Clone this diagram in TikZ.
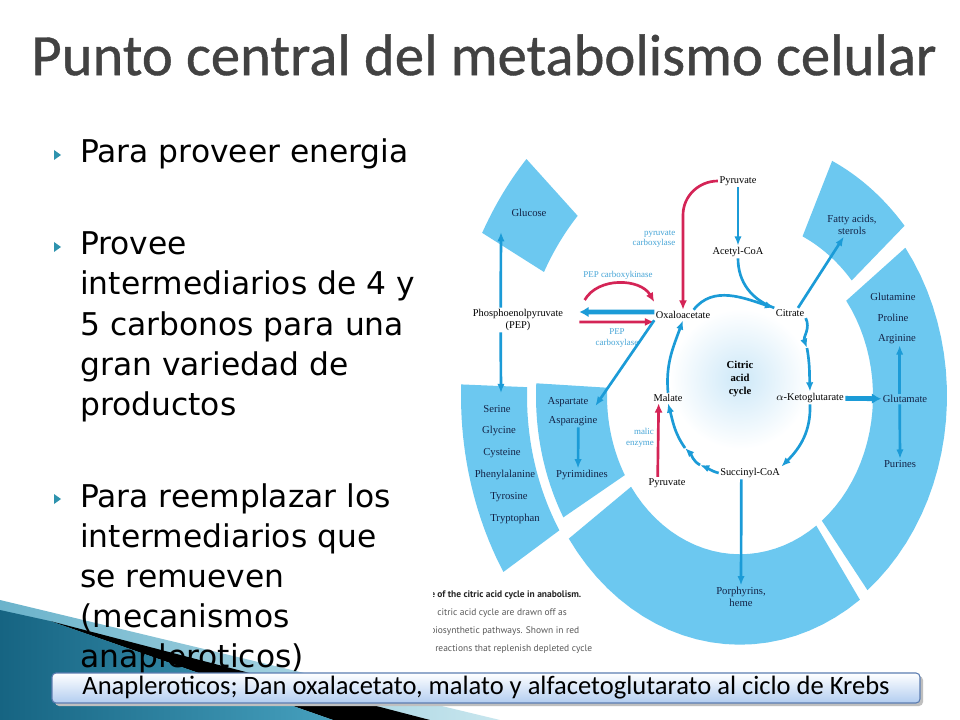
\documentclass[tikz,border=0pt]{standalone}
\usepackage{fontspec}
\newfontfamily\titlefont{Carlito}
\newfontfamily\headfont[FakeBold=0.7]{Carlito}
\newfontfamily\bulletfont{DejaVu Sans}
\newfontfamily\capfont{PT Sans}
\newfontfamily\figfont{Liberation Serif}
\usetikzlibrary{arrows.meta,positioning}
\definecolor{segblue}{RGB}{108,200,240}
\definecolor{arrblue}{RGB}{27,155,215}
\definecolor{arrred}{RGB}{212,36,86}
\definecolor{enzblue}{RGB}{70,165,215}
\definecolor{segtext}{RGB}{20,35,70}
\definecolor{titlegray}{RGB}{66,66,66}
\definecolor{bulletteal}{RGB}{46,147,174}
\definecolor{bannerline}{RGB}{92,125,177}
\definecolor{bannerfill}{RGB}{178,205,240}
\definecolor{tealdark}{RGB}{22,100,130}
\definecolor{tealmid}{RGB}{70,160,190}
\definecolor{teallight}{RGB}{200,230,238}
\definecolor{glow}{RGB}{205,232,248}

% ring piece around the cycle: angles #1..#2, radii #3..#4
\newcommand\ringseg[4]{\fill[segblue] plot[domain=#1:#2,samples=24] ({740+#3*cos(\x)},{396-1.19*#3*sin(\x)})
  -- plot[domain=#2:#1,samples=24] ({740+#4*cos(\x)},{396-1.19*#4*sin(\x)}) -- cycle;}

\begin{document}
\begin{tikzpicture}[x=0.75pt,y=-0.75pt,
  met/.style={font=\figfont\fontsize{7.8}{9}\selectfont,align=center,inner sep=1pt},
  seglbl/.style={met,font=\figfont\fontsize{8}{9.4}\selectfont,text=segtext},
  enz/.style={font=\figfont\fontsize{6.7}{8}\selectfont,text=enzblue,align=center,inner sep=1pt},
  flow/.style={draw=arrblue,line width=2pt,-{Latex[length=7pt,width=5.5pt]}},
  flowthick/.style={flow,line width=3.6pt,-{Latex[length=7pt,width=8pt]}},
  refill/.style={draw=arrred,line width=2pt,-{Latex[length=7pt,width=6pt]}},
  btext/.style={font=\bulletfont\fontsize{23.5}{30}\selectfont,anchor=base west,inner sep=0pt},
  capline/.style={font=\capfont\fontsize{7.1}{8}\selectfont,text=black!65,anchor=base west,inner sep=0pt}]
\fill[white] (0,0) rectangle (960,720);
\useasboundingbox (0,0) rectangle (960,720);

% corner swoosh
\shade[left color=tealmid!80,right color=teallight] (0,600) -- (500,720) -- (0,720) -- cycle;
\fill[black] (50,621) -- (430,720) -- (333,720) -- cycle;
\shade[left color=tealdark,right color=tealmid] (0,610) -- (50,621) -- (333,720) -- (0,720) -- cycle;

% title
\node[font=\headfont\fontsize{44}{50}\selectfont,text=titlegray] (title) at (484,55) {Punto central del metabolismo celular};

% bullets
\foreach \y in {155,247,499}
  \fill[bulletteal] (54,{\y-5}) -- (61,\y) -- (54,{\y+5}) -- cycle;
\node[btext] (p1) at (80,163) {Para proveer energia};
\foreach \t [count=\i] in {Provee,intermediarios de 4 y,5 carbonos para una,gran variedad de,productos}
  \node[btext] (p2l\i) at (80,{215+40*\i}) {\t};
\foreach \t [count=\i] in {Para reemplazar los,intermediarios que,se remueven,{(mecanismos},{anapleroticos)}}
  \node[btext] (p3l\i) at (80,{467+40*\i}) {\t};

% ring
\ringseg{137}{152}{222}{292}
\ringseg{41}{65}{148}{218}
\ringseg{-52}{37}{133}{207}
\ringseg{-145}{-55}{133}{209}
\ringseg{177}{210}{133}{204}
\ringseg{178}{212}{213}{279}
\shade[inner color=glow,outer color=white] (740,379) circle (70);

% cycle
\node[met] (pyrtop) at (738,181) {Pyruvate};
\node[met] (acetyl) at (738,252) {Acetyl-CoA};
\node[met] (citrate) at (790,313) {Citrate};
\node[met] (oxalo) at (683,315) {Oxaloacetate};
\node[met] (akg) at (810,398) {$\alpha$-Ketoglutarate};
\node[met] (succ) at (750,473) {Succinyl-CoA};
\node[met] (malate) at (668,398) {Malate};
\node[met] (pyrbot) at (667,483) {Pyruvate};
\node[met] (pep) at (518,320) {Phosphoenolpyruvate\\(PEP)};
\node[met,font=\figfont\bfseries\fontsize{8}{10}\selectfont] (cac) at (740,379) {Citric\\acid\\cycle};

\node[seglbl] (glucose) at (529,213) {Glucose};
\node[seglbl] (fatty) at (852,225) {Fatty acids,\\sterols};
\foreach \name/\xx/\yy in {Glutamine/893/297,Proline/893/318,Arginine/897/339}
  \node[seglbl] (\name) at (\xx,\yy) {\name};
\node[seglbl] (glutamate) at (905,399) {Glutamate};
\node[seglbl] (purines) at (900,464) {Purines};
\node[seglbl] (aspartate) at (568,402) {Aspartate};
\node[seglbl] (asparagine) at (573,421) {Asparagine};
\node[seglbl] (pyrimidines) at (582,475) {Pyrimidines};
\foreach \name/\xx/\yy in {Serine/497/409,Glycine/499/431,Cysteine/502/453,Phenylalanine/505/475,Tyrosine/509/497,Tryptophan/515/519}
  \node[seglbl] (\name) at (\xx,\yy) {\name};
\node[seglbl] (porph) at (741,597) {Porphyrins,\\heme};

\node[enz,align=right] (pyrcarb) at (654,239) {pyruvate\\carboxylase};
\node[enz] (pepck) at (618,275) {PEP carboxykinase};
\node[enz] (pepcarb) at (617,338) {PEP\\carboxylase};
\node[enz,align=right] (malic) at (640,438) {malic\\enzyme};

\coordinate (bend) at (683,215);
\coordinate (isocit) at (807,348);
\coordinate (fum1) at (700,465);
\coordinate (fum2) at (685,448);
\coordinate (gluc) at (501,232);

\draw[flow] (pyrtop) -- (acetyl);
\draw[refill] (pyrtop.west) to[out=180,in=90] (bend) -- (oxalo.north);
\draw[arrblue,line width=2pt] (acetyl.south) to[out=-90,in=160] (citrate.north west);
\draw[flow] ([xshift=8pt]oxalo.north) to[out=52,in=162] (citrate.north west);
\draw[flow] (citrate.south east) to[out=-65,in=110] (isocit);
\draw[flow] (isocit) to[out=-80,in=92] (akg.north);
\draw[flow] (akg.south) to[out=-88,in=45] (succ.north east);
\draw[flow] (succ.west) to[out=165,in=-22] (fum1);
\draw[flow] (fum1) to[out=150,in=-45] (fum2);
\draw[flow] (fum2) to[out=125,in=-75] (malate.south);
\draw[flow] (malate.north) to[out=95,in=-110] (oxalo.south);
\draw[refill] ([xshift=-7pt]pyrbot.north) -- ([xshift=-7pt]malate.south);

\draw[flowthick] ([yshift=2.2pt]oxalo.west) -- ([xshift=11pt,yshift=6pt]pep.east);
\draw[refill] ([xshift=11pt,yshift=-1.5pt]pep.east) -- ([yshift=-5.2pt]oxalo.west);
\draw[refill] ([xshift=15pt,yshift=15pt]pep.east) to[out=60,in=120] ([yshift=9.7pt]oxalo.west);
\draw[flow] ([xshift=-13pt]pep.north) -- (gluc);
\draw[flow] ([xshift=-13pt]pep.south) -- ([xshift=3pt,yshift=8pt]Serine.north);
\draw[flow] (oxalo.south west) -- ([xshift=4pt,yshift=-3pt]aspartate.east);
\draw[flow] ([xshift=4pt]asparagine.south) -- ([xshift=-3pt]pyrimidines.north);
\draw[flow] ([xshift=6pt]citrate.north) -- (fatty.-125);
\draw[flowthick] (akg) -- (glutamate);
\draw[flow] ([xshift=-4pt]glutamate.north) -- ([xshift=2pt]Arginine.south);
\draw[flow] ([xshift=-4pt]glutamate.south) -- (purines.north);
\draw[flow] ([xshift=-6.5pt]succ.south) -- (porph.north);

% figure caption, cut at its left side
\begin{scope}
  \clip (433,580) rectangle (640,660);
  \node[capline,font=\capfont\bfseries\fontsize{7.1}{8}\selectfont,text=black!85] (cap1) at (430,597) {e of the citric acid cycle in anabolism.};
  \node[capline] (cap2) at (437,615) {citric acid cycle are drawn off as};
  \node[capline] (cap3) at (430,633) {biosynthetic pathways. Shown in red};
  \node[capline] (cap4) at (435,651) {reactions that replenish depleted cycle};
\end{scope}

% banner
\fill[black!25,rounded corners=3pt] (55,676) rectangle (923,706);
\node[draw=bannerline,line width=0.8pt,rounded corners=3pt,top color=white,bottom color=bannerfill,
  minimum width=651pt,minimum height=22.5pt,inner sep=0pt,font=\titlefont\fontsize{19.9}{22}\selectfont] (krebs) at (486,688)
  {Anapleroticos; Dan oxalacetato, malato y alfacetoglutarato al ciclo de Krebs};
\end{tikzpicture}
\end{document}
